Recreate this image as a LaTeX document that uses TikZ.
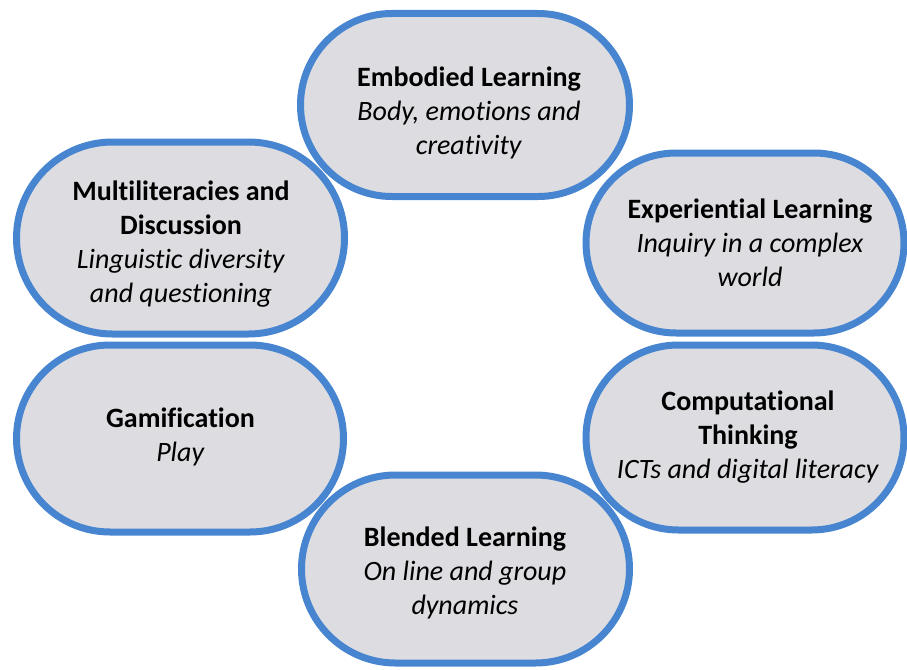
\documentclass[tikz,border=0pt]{standalone}
\usepackage{fontspec}
\setmainfont[Ligatures={TeX,NoCommon}]{Carlito}
\usetikzlibrary{shapes.misc}
\definecolor{rimblue}{RGB}{72,133,208}
\definecolor{padgray}{RGB}{221,221,225}
\begin{document}
\begin{tikzpicture}[x=1pt,y=-1pt,
  pill/.style={draw=rimblue,fill=padgray,line width=7pt,rounded rectangle,inner sep=0pt},
  padtext/.style={align=center,inner sep=0pt,font=\fontsize{28}{34}\selectfont}]
\useasboundingbox (0,0) rectangle (907,669);
% the six pads
\node[pill,minimum width=329pt,minimum height=183pt] (1) at (465,105) {};
\node[pill,minimum width=328pt,minimum height=192pt] (2) at (180.5,238) {};
\node[pill,minimum width=318pt,minimum height=180pt] (3) at (745,243) {};
\node[pill,minimum width=327pt,minimum height=187pt] (4) at (180,438.5) {};
\node[pill,minimum width=318pt,minimum height=185pt] (5) at (745,437.5) {};
\node[pill,minimum width=328pt,minimum height=188pt] (6) at (465.5,569) {};
% their texts
\node[padtext] (1t) at (469,113)
  {\textbf{Embodied Learning}\\ \textit{Body, emotions and}\\ \textit{creativity}};
\node[padtext] (2t) at (181,244.5)
  {\textbf{Multiliteracies and}\\ \textbf{Discussion}\\ \textit{Linguistic diversity}\\ \textit{and questioning}};
\node[padtext] (3t) at (750,243)
  {\textbf{Experiential Learning}\\ \textit{Inquiry in a complex}\\ \textit{world}};
\node[padtext] (4t) at (180.5,436.5)
  {\textbf{Gamification}\\ \textit{Play}};
\node[padtext] (5t) at (748,437)
  {\textbf{Computational}\\ \textbf{Thinking}\\ \textit{ICTs and digital literacy}};
\node[padtext] (6t) at (465,573)
  {\textbf{Blended Learning}\\ \textit{On line and group}\\ \textit{dynamics}};
\end{tikzpicture}
\end{document}
